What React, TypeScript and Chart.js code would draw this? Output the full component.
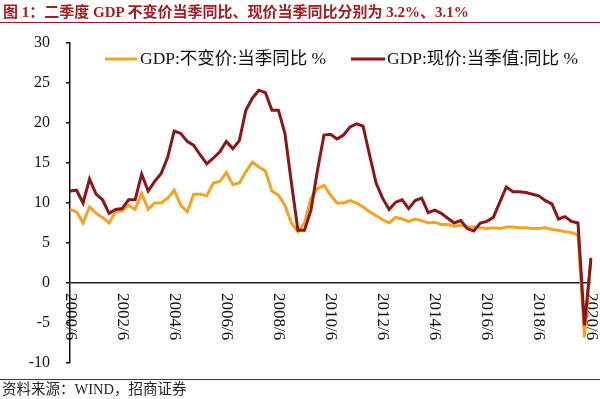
import React, { useEffect, useRef } from 'react';
import { Chart, registerables } from 'chart.js';

Chart.register(...registerables);

const SERIF = "'Liberation Serif', 'Noto Sans CJK SC', serif";

// Quarterly categories from 2000/6 to 2020/6
const quarters: string[] = [];
for (let y = 2000; y <= 2020; y++) {
  for (const m of [3, 6, 9, 12]) {
    if ((y === 2000 && m < 6) || (y === 2020 && m > 6)) continue;
    quarters.push(`${y}/${m}`);
  }
}

const xTickLabels = ['2000/6', '2002/6', '2004/6', '2006/6', '2008/6', '2010/6', '2012/6', '2014/6', '2016/6', '2018/6', '2020/6'];

const legendNames = ['GDP:不变价:当季同比 %', 'GDP:现价:当季值:同比 %'];

// GDP constant price, quarterly YoY (%)
const realGdp = [
  9.2, 8.9, 7.5, 9.5, 8.7, 8.2, 7.5, 8.9, 9.0, 9.7,
  9.2, 11.2, 9.2, 10.0, 10.0, 10.6, 11.6, 9.7, 8.9, 11.1,
  11.1, 10.9, 12.5, 12.7, 13.8, 12.3, 12.5, 13.9, 15.1, 14.5,
  14.0, 11.5, 11.0, 9.7, 7.5, 6.4, 7.5, 10.6, 11.8, 12.2,
  11.0, 10.0, 10.0, 10.3, 10.0, 9.5, 8.9, 8.4, 7.9, 7.5,
  8.2, 8.0, 7.7, 8.0, 7.8, 7.5, 7.6, 7.3, 7.3, 7.1,
  7.2, 7.0, 7.0, 6.9, 6.8, 6.9, 6.8, 7.0, 7.0, 6.9,
  6.9, 6.8, 6.8, 6.9, 6.7, 6.6, 6.4, 6.3, 6.0, -6.8, 3.2,
];

// GDP current price, quarterly YoY (%)
const nominalGdp = [
  11.5, 11.6, 10.0, 13.0, 11.1, 10.4, 8.7, 9.2, 9.3, 10.4,
  10.4, 13.6, 11.5, 12.7, 13.7, 15.7, 19.0, 18.7, 17.7, 17.2,
  16.0, 14.9, 15.6, 16.4, 17.7, 16.8, 17.8, 21.6, 23.1, 24.1,
  23.8, 21.6, 21.6, 18.7, 12.5, 6.6, 6.6, 9.1, 14.1, 18.5,
  18.6, 18.0, 18.5, 19.5, 19.9, 19.6, 16.0, 12.5, 10.6, 9.2,
  10.1, 10.4, 9.3, 10.3, 10.6, 8.8, 9.1, 8.7, 8.1, 7.5,
  7.8, 6.8, 6.5, 7.5, 7.7, 8.2, 10.1, 12.0, 11.4, 11.4,
  11.3, 11.1, 10.9, 10.3, 9.9, 8.0, 8.3, 7.7, 7.5, -5.3, 3.1,
];

const ORANGE = '#F4A325';
const DARKRED = '#8C1518';
const colors = [ORANGE, DARKRED];

const overlayPlugin = {
  id: 'overlay',
  beforeDraw(chart: any) {
    const { ctx, scales } = chart;
    const xs = scales.x;
    const ys = scales.y;
    const y0 = ys.getPixelForValue(0);
    ctx.save();
    ctx.fillStyle = '#111';
    ctx.font = `17px ${SERIF}`;
    ctx.textAlign = 'left';
    ctx.textBaseline = 'middle';
    xTickLabels.forEach((lbl) => {
      const idx = quarters.indexOf(lbl);
      if (idx < 0) return;
      const px = xs.getPixelForValue(idx);
      ctx.save();
      ctx.translate(px, y0 + 10);
      ctx.rotate(Math.PI / 2);
      ctx.fillText(lbl, 0, 0);
      ctx.restore();
    });
    ctx.restore();
  },
  afterDraw(chart: any) {
    const { ctx, chartArea } = chart;
    const ly = chartArea.top + 16;
    const items = [
      { x0: chartArea.left + 35, x1: chartArea.left + 67, tx: chartArea.left + 70 },
      { x0: chartArea.left + 281, x1: chartArea.left + 315, tx: chartArea.left + 317 },
    ];
    ctx.save();
    items.forEach((it, i) => {
      ctx.strokeStyle = colors[i];
      ctx.lineWidth = 3;
      ctx.beginPath();
      ctx.moveTo(it.x0, ly);
      ctx.lineTo(it.x1, ly);
      ctx.stroke();
      ctx.fillStyle = '#111';
      ctx.font = `17.5px ${SERIF}`;
      ctx.textAlign = 'left';
      ctx.textBaseline = 'middle';
      ctx.fillText(legendNames[i], it.tx, ly);
    });
    ctx.restore();
  },
};

function GdpChart() {
  const ref = useRef<HTMLCanvasElement | null>(null);
  useEffect(() => {
    if (!ref.current) return;
    const chart = new Chart(ref.current, {
      type: 'line',
      data: {
        labels: quarters,
        datasets: [
          {
            label: legendNames[0],
            data: realGdp,
            borderColor: ORANGE,
            backgroundColor: ORANGE,
            borderWidth: 3,
            pointRadius: 0,
            tension: 0,
            order: 1,
          },
          {
            label: legendNames[1],
            data: nominalGdp,
            borderColor: DARKRED,
            backgroundColor: DARKRED,
            borderWidth: 3,
            pointRadius: 0,
            tension: 0,
            order: 0,
          },
        ],
      },
      options: {
        responsive: false,
        animation: false,
        layout: { padding: { top: 43, right: 9, bottom: 36, left: 0 } },
        plugins: { legend: { display: false }, tooltip: { enabled: false }, title: { display: false } },
        scales: {
          x: {
            type: 'category',
            offset: false,
            grid: { display: false },
            border: { display: false },
            ticks: { display: false },
            afterFit: (s: any) => { s.height = 0; },
          },
          y: {
            min: -10,
            max: 30,
            ticks: { stepSize: 5, color: '#111', font: { family: SERIF, size: 16 }, padding: 16 },
            grid: {
              drawOnChartArea: true,
              color: (c: any) => (c.tick && c.tick.value === 0 ? '#222' : 'rgba(0,0,0,0)'),
              lineWidth: 1.5,
              tickColor: '#111',
              tickLength: 4,
              tickWidth: 1.5,
            },
            border: { display: true, color: '#111', width: 1.5 },
            afterFit: (s: any) => { s.width = 70; },
          },
        },
      },
      plugins: [overlayPlugin],
    } as any);
    return () => chart.destroy();
  }, []);
  return <canvas ref={ref} width={600} height={399} style={{ position: 'absolute', left: 0, top: 0, width: 600, height: 399 }} />;
}

export default function App() {
  return (
    <div style={{ position: 'fixed', left: 0, top: 0, width: 600, height: 399, background: '#fff', overflow: 'hidden' }}>
      <GdpChart />
      <div
        style={{
          position: 'absolute', left: 3, top: 3, whiteSpace: 'nowrap',
          font: `bold 15px ${SERIF}`, lineHeight: '18px', color: '#A01D22',
        }}
      >
        图 1：二季度 GDP 不变价当季同比、现价当季同比分别为 3.2%、3.1%
      </div>
      <div style={{ position: 'absolute', left: 0, top: 22, width: 600, height: 0, borderTop: '1.5px solid #8E1B1F' }} />
      <div style={{ position: 'absolute', left: 0, top: 379, width: 600, height: 0, borderTop: '1.5px solid #8E1B1F' }} />
      <div
        style={{
          position: 'absolute', left: 2, top: 381, whiteSpace: 'nowrap',
          font: `14.5px ${SERIF}`, lineHeight: '16px', color: '#222',
        }}
      >
        资料来源：WIND，招商证券
      </div>
    </div>
  );
}
